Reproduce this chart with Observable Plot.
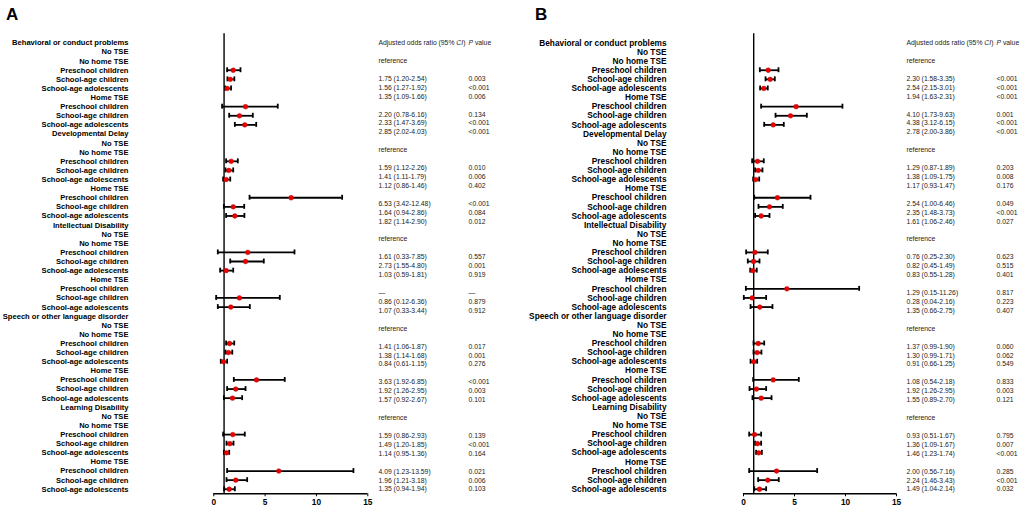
<!DOCTYPE html>
<html><head><meta charset="utf-8">
<script src="https://cdn.jsdelivr.net/npm/d3@7"></script>
<script src="https://cdn.jsdelivr.net/npm/@observablehq/plot@0.6"></script>
<style>
body{margin:0;background:#fff;}
#wrap{position:relative;display:flex;width:1020px;height:515px;}
.letter{position:absolute;top:5px;font:bold 17px "Liberation Sans",Arial,sans-serif;color:#000;}
</style>
</head><body>
<div id="wrap"></div>
<script>
// ---------- data ----------
const disorders = ["Behavioral or conduct problems", "Developmental Delay", "Intellectual Disability", "Speech or other language disorder", "Learning Disability"];
const subLabels = ["No TSE", "No home TSE", "Preschool children", "School-age children", "School-age adolescents", "Home TSE", "Preschool children", "School-age children", "School-age adolescents"];
const groups = ["Preschool children", "School-age children", "School-age adolescents"];
const tickLabels = [0, 5, 10, 15];
const colHeader = "Adjusted odds ratio (95% CI)";
const pHeader = "P value";
const refLabel = "reference";

// Panel A: plotted estimates (read from markers), 6 per disorder: no-home (3 groups), home (3 groups)
const aOR = [1.89, 1.60, 1.30, 3.09, 2.50, 3.02,
             1.69, 1.46, 1.20, 7.53, 1.89, 2.05,
             3.31, 3.09, 1.20, null, 2.50, 1.66,
             1.53, 1.43, 0.94, 4.16, 2.14, 1.82,
             1.85, 1.56, 1.24, 6.33, 2.14, 1.50];
const aLo = [1.30, 1.33, 1.10, 0.81, 1.50, 2.05,
             1.20, 1.14, 0.91, 3.48, 0.98, 1.20,
             0.39, 1.60, 0.62, null, 0.23, 0.39,
             1.20, 1.14, 0.68, 1.95, 1.30, 0.98,
             0.91, 1.24, 0.98, 1.30, 1.24, 1.01];
const aHi = [2.60, 2.00, 1.68, 6.23, 3.80, 4.13,
             2.34, 1.89, 1.60, 12.50, 2.96, 2.98,
             7.86, 4.87, 1.89, null, 6.43, 3.51,
             1.99, 1.80, 1.30, 6.91, 3.09, 2.76,
             3.02, 1.92, 1.50, 13.60, 3.25, 2.05];
const aEst = ["1.75 (1.20-2.54)", "1.56 (1.27-1.92)", "1.35 (1.09-1.66)", "2.20 (0.78-6.16)", "2.33 (1.47-3.69)", "2.85 (2.02-4.03)",
              "1.59 (1.12-2.26)", "1.41 (1.11-1.79)", "1.12 (0.86-1.46)", "6.53 (3.42-12.48)", "1.64 (0.94-2.86)", "1.82 (1.14-2.90)",
              "1.61 (0.33-7.85)", "2.73 (1.55-4.80)", "1.03 (0.59-1.81)", "—", "0.86 (0.12-6.36)", "1.07 (0.33-3.44)",
              "1.41 (1.06-1.87)", "1.38 (1.14-1.68)", "0.84 (0.61-1.15)", "3.63 (1.92-6.85)", "1.92 (1.26-2.95)", "1.57 (0.92-2.67)",
              "1.59 (0.86-2.93)", "1.49 (1.20-1.85)", "1.14 (0.95-1.36)", "4.09 (1.23-13.59)", "1.96 (1.21-3.18)", "1.35 (0.94-1.94)"];
const aP = ["0.003", "<0.001", "0.006", "0.134", "<0.001", "<0.001",
            "0.010", "0.006", "0.402", "<0.001", "0.084", "0.012",
            "0.557", "0.001", "0.919", "—", "0.879", "0.912",
            "0.017", "0.001", "0.276", "<0.001", "0.003", "0.101",
            "0.139", "<0.001", "0.164", "0.021", "0.006", "0.103"];

// Panel B
const bOR = [2.42, 2.61, 1.99, 5.16, 4.61, 2.91,
             1.37, 1.44, 1.21, 3.33, 2.55, 1.73,
             1.11, 0.98, 0.91, 4.25, 0.85, 1.60,
             1.44, 1.34, 1.01, 2.91, 1.27, 1.73,
             1.08, 1.37, 1.50, 3.24, 2.38, 1.57];
const bLo = [1.60, 2.16, 1.63, 1.73, 3.14, 2.03,
             0.85, 1.14, 0.95, 1.05, 1.47, 1.14,
             0.26, 0.42, 0.66, 0.23, 0.03, 0.69,
             0.98, 0.98, 0.69, 0.95, 0.59, 0.88,
             0.56, 1.14, 1.24, 0.56, 1.44, 1.05];
const bHi = [3.43, 3.07, 2.38, 9.70, 6.21, 3.95,
             1.99, 1.86, 1.54, 6.57, 3.85, 2.55,
             2.38, 1.57, 1.30, 11.34, 2.22, 2.84,
             2.03, 1.76, 1.34, 5.42, 2.22, 2.75,
             1.73, 1.73, 1.80, 7.22, 3.46, 2.22];
const bEst = ["2.30 (1.58-3.35)", "2.54 (2.15-3.01)", "1.94 (1.63-2.31)", "4.10 (1.73-9.63)", "4.38 (3.12-6.15)", "2.78 (2.00-3.86)",
              "1.29 (0.87-1.89)", "1.38 (1.09-1.75)", "1.17 (0.93-1.47)", "2.54 (1.00-6.46)", "2.35 (1.48-3.73)", "1.61 (1.06-2.46)",
              "0.76 (0.25-2.30)", "0.82 (0.45-1.49)", "0.83 (0.55-1.28)", "1.29 (0.15-11.26)", "0.28 (0.04-2.16)", "1.35 (0.66-2.75)",
              "1.37 (0.99-1.90)", "1.30 (0.99-1.71)", "0.91 (0.66-1.25)", "1.08 (0.54-2.18)", "1.92 (1.26-2.95)", "1.55 (0.89-2.70)",
              "0.93 (0.51-1.67)", "1.36 (1.09-1.67)", "1.46 (1.23-1.74)", "2.00 (0.56-7.16)", "2.24 (1.46-3.43)", "1.49 (1.04-2.14)"];
const bP = ["<0.001", "<0.001", "<0.001", "0.001", "<0.001", "<0.001",
            "0.203", "0.008", "0.176", "0.049", "<0.001", "0.027",
            "0.623", "0.515", "0.401", "0.817", "0.223", "0.407",
            "0.060", "0.062", "0.549", "0.833", "0.003", "0.121",
            "0.795", "0.007", "<0.001", "0.285", "<0.001", "0.032"];

// ---------- build ----------
const NROWS = disorders.length * 10;          // 50 label rows
const TSLOTS = NROWS;                          // table rows 0..50 span same height
const slotToRow = k => k * (NROWS - 1) / TSLOTS;

function buildPanel(or, lo, hi, est, p, cfg) {
  const labels = [];
  const bars = [];
  const table = [{slot: 0, est: colHeader, p: pHeader}];
  disorders.forEach((name, d) => {
    const base = d * 10;
    labels.push({row: base, text: name});
    subLabels.forEach((s, j) => labels.push({row: base + 1 + j, text: s}));
    table.push({slot: base + 2, est: refLabel, p: ""});
    for (let j = 0; j < 6; j++) {
      const i = d * 6 + j;
      const row = base + (j < 3 ? 3 + j : 4 + j);
      if (or[i] != null) bars.push({row, or: or[i], lo: lo[i], hi: hi[i]});
      const slot = base + (j < 3 ? 4 + j : 5 + j);
      table.push({slot, est: est[i], p: p[i]});
    }
  });
  const tableRows = table.map(t => ({...t, y: slotToRow(t.slot)}));

  const svg = Plot.plot({
    width: 510, height: 515,
    marginLeft: cfg.ml, marginRight: 510 - cfg.ml - cfg.fw,
    marginTop: 33.3, marginBottom: 21.7,
    style: {fontFamily: "'Liberation Sans', Arial, sans-serif", background: "#fff", color: "#000"},
    x: {domain: [0, 15]},
    y: {domain: [-1, NROWS - 0.5], reverse: true, axis: null},
    marks: [
      Plot.axisX({ticks: tickLabels, tickSize: 3, tickPadding: 2.5, fontSize: 8.3, fontWeight: "bold", strokeWidth: 1}),
      Plot.ruleY([NROWS - 0.5], {strokeWidth: 1.4}),
      Plot.ruleX([1], {strokeWidth: 1.4}),
      Plot.ruleY(bars, {y: "row", x1: "lo", x2: "hi", strokeWidth: 1.8}),
      Plot.ruleX(bars, {x: "lo", y1: d => d.row - 0.27, y2: d => d.row + 0.27, strokeWidth: 1.8}),
      Plot.ruleX(bars, {x: "hi", y1: d => d.row - 0.27, y2: d => d.row + 0.27, strokeWidth: 1.8}),
      Plot.dot(bars, {x: "or", y: "row", r: 2.4, fill: "#ee0000", stroke: "#b00000", strokeWidth: 0.4}),
      Plot.text(labels, {y: "row", text: "text", frameAnchor: "left", dx: cfg.labelDx, textAnchor: "end",
        fontSize: cfg.labelSize, fontWeight: "bold", fill: "#000"}),
      Plot.text(tableRows, {y: "y", text: "est", frameAnchor: "right", dx: cfg.estDx, textAnchor: "start",
        fontSize: 6.8, fill: "#222"}),
      Plot.text(tableRows, {y: "y", text: "p", frameAnchor: "right", dx: cfg.pDx, textAnchor: "start",
        fontSize: 6.8, fill: "#222"})
    ]
  });
  // italic P and CI in header
  d3.select(svg).selectAll("text").each(function() {
    const t = d3.select(this);
    if (this.textContent === pHeader && !this.querySelector("tspan")) {
      t.text(null);
      t.append("tspan").attr("font-style", "italic").text("P");
      t.append("tspan").text(" value");
    } else if (this.textContent === colHeader && !this.querySelector("tspan")) {
      t.text(null);
      t.append("tspan").text("Adjusted odds ratio (95% ");
      t.append("tspan").attr("font-style", "italic").text("CI");
      t.append("tspan").text(")");
    }
  });
  return svg;
}

const wrap = document.getElementById("wrap");
wrap.appendChild(buildPanel(aOR, aLo, aHi, aEst, aP, {ml: 213.3, fw: 154, labelDx: -85.3, labelSize: 7.6, estDx: 10.7, pDx: 100.7}));
wrap.appendChild(buildPanel(bOR, bLo, bHi, bEst, bP, {ml: 233, fw: 153, labelDx: -77, labelSize: 8.3, estDx: 10, pDx: 100}));
["A", "B"].forEach((L, i) => {
  const el = document.createElement("div");
  el.className = "letter";
  el.style.left = (i === 0 ? 6 : 535) + "px";
  el.textContent = L;
  wrap.appendChild(el);
});
</script>
</body></html>
